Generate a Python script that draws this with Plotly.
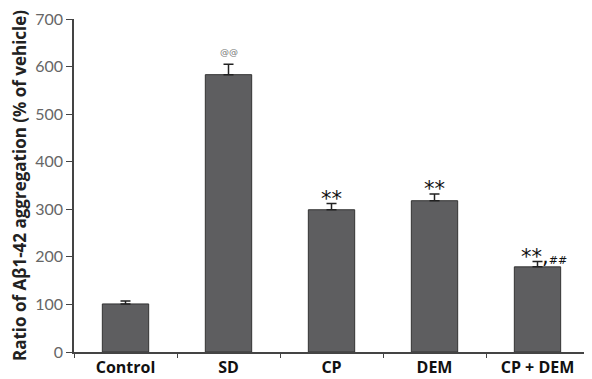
import plotly.graph_objects as go

categories = ["Control", "SD", "CP", "DEM", "CP + DEM"]
values = [101, 583, 299, 318, 179]
errors = [6, 22, 13, 14, 11]
marks = ["", "@@", "**", "**", "**,<span style='font-size:11px'>##</span>"]

fig = go.Figure()
fig.add_trace(go.Bar(
    x=categories, y=values, width=0.45,
    marker=dict(color="#5e5e60", line=dict(color="#333333", width=1)),
    error_y=dict(type="data", symmetric=False, array=errors,
                 arrayminus=[0] * len(errors), color="#222222",
                 thickness=1.5, width=5),
))

for c, v, e, m in zip(categories, values, errors, marks):
    if not m:
        continue
    if m == "@@":
        fig.add_annotation(x=c, y=v + e, text=m, showarrow=False, yshift=12,
                           font=dict(family="DejaVu Sans", size=9, color="#777777"))
    else:
        fig.add_annotation(x=c, y=v + e, text=m, showarrow=False,
                           yanchor="bottom", yshift=-9,
                           xshift=6 if "##" in m else 0,
                           font=dict(family="DejaVu Sans", size=21, color="#111111"))

# page body has an 8px default margin, so the figure is sized/offset to fit the window
fig.update_layout(
    width=584, height=371,
    margin=dict(l=66, r=3, t=11, b=27),
    plot_bgcolor="white", paper_bgcolor="white",
    showlegend=False, bargap=0.55,
)
fig.update_xaxes(
    automargin=False,
    showline=True, linecolor="#444444", linewidth=1.5,
    ticks="outside", tickson="boundaries", ticklen=4, tickcolor="#444444",
    tickfont=dict(family="Open Sans", size=16, color="#111111", weight="bold"),
    showgrid=False,
)
fig.update_yaxes(
    automargin=False,
    range=[0, 700], dtick=100, showline=True, linecolor="#444444", linewidth=1.5,
    ticks="outside", ticklen=6, tickcolor="#444444",
    tickfont=dict(family="Lato", size=16, color="#666666"),
    showgrid=False, zeroline=False,
    title=dict(text="Ratio of Aβ1-42 aggregation (% of vehicle)", standoff=5,
               font=dict(family="Open Sans", size=17, color="#222222", weight="bold")),
)

fig.write_html("out.html")
